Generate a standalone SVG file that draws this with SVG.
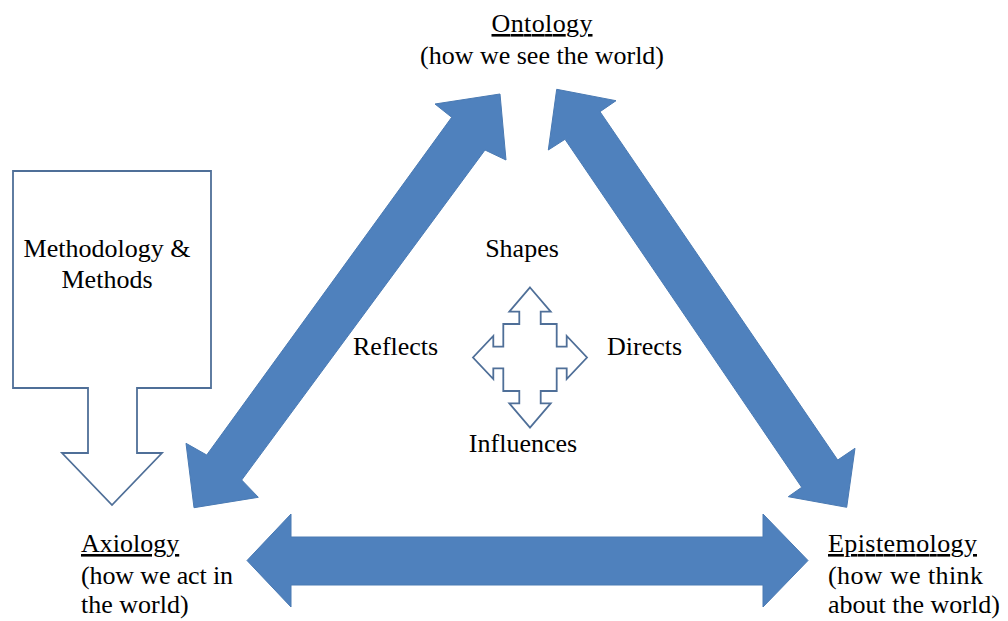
<svg xmlns="http://www.w3.org/2000/svg" width="1008" height="621" viewBox="0 0 1008 621">
  <style>
    text { font-family: 'Liberation Serif', 'Times New Roman', serif; font-size: 26px; fill: #000; }
    .title { text-decoration: underline; }
    .mid { text-anchor: middle; }
    .bigArrow { fill: #4f81bd; stroke: #4a7ab3; stroke-width: 1; stroke-linejoin: miter; }
    .outline { fill: #fff; stroke: #4f6f98; stroke-width: 1.8; stroke-linejoin: miter; }
  </style>
  <rect x="0" y="0" width="1008" height="621" fill="#fff"/>

  <!-- Ontology -->
  <g id="ontology" font-family="Liberation Serif">
    <text class="mid title" x="542" y="32" textLength="101" lengthAdjust="spacing">Ontology</text>
    <text class="mid" x="542" y="64">(how we see the world)</text>
  </g>

  <!-- Axiology -->
  <g id="axiology" font-family="Liberation Serif">
    <text class="title" x="81" y="552">Axiology</text>
    <text x="81" y="584" textLength="152" lengthAdjust="spacing">(how we act in</text>
    <text x="81" y="613">the world)</text>
  </g>

  <!-- Epistemology -->
  <g id="epistemology" font-family="Liberation Serif">
    <text class="title" x="828" y="552" textLength="149" lengthAdjust="spacing">Epistemology</text>
    <text x="828" y="584" textLength="155" lengthAdjust="spacing">(how we think</text>
    <text x="828" y="613">about the world)</text>
  </g>

  <!-- Methodology & Methods: box with a down-pointing arrow -->
  <g id="methodology" font-family="Liberation Serif">
    <path class="outline" d="M13,171 H211 V388 H137 V453 H162 L112,505 L62,453 H88 V388 H13 Z"/>
    <text class="mid" x="107" y="257">Methodology &amp;</text>
    <text class="mid" x="107" y="288">Methods</text>
  </g>

  <!-- Central four-way arrow with its labels -->
  <g id="centre" font-family="Liberation Serif">
    <path class="outline" d="M530,287.5 L550.7,311.7 H540.7 V324 H556.7 V346.7 H566.7 V336 L587,357.5 L566.7,379 V368.3 H556.7 V391 H540.7 V403.3 H550.7 L530,427.5 L509.3,403.3 H519.3 V391 H503.3 V368.3 H493.3 V379 L473,357.5 L493.3,336 V346.7 H503.3 V324 H519.3 V311.7 H509.3 Z"/>
    <text class="mid" x="522" y="257">Shapes</text>
    <text class="mid" x="523" y="452">Influences</text>
  </g>

  <!-- Double-headed connectors between the three positions -->
  <g id="connectors" font-family="Liberation Serif">
    <polygon class="bigArrow" points="500,94 506,160 485,150 241.7,480 258.3,497.3 194,507.7 186,443.3 206.7,455 451.7,117.3 435,104"/>
    <polygon class="bigArrow" points="556.7,89.3 616,100.7 600,111.7 837.7,460 855,448.3 846.7,507.3 788.3,496.7 801.7,487.3 565,139.3 548.3,150"/>
    <polygon class="bigArrow" points="247,560.5 291,514 291,537 763,537 763,514 808,560.5 763,607 763,585 291,585 291,607"/>
    <text x="353" y="355">Reflects</text>
    <text x="607" y="355">Directs</text>
  </g>
</svg>
